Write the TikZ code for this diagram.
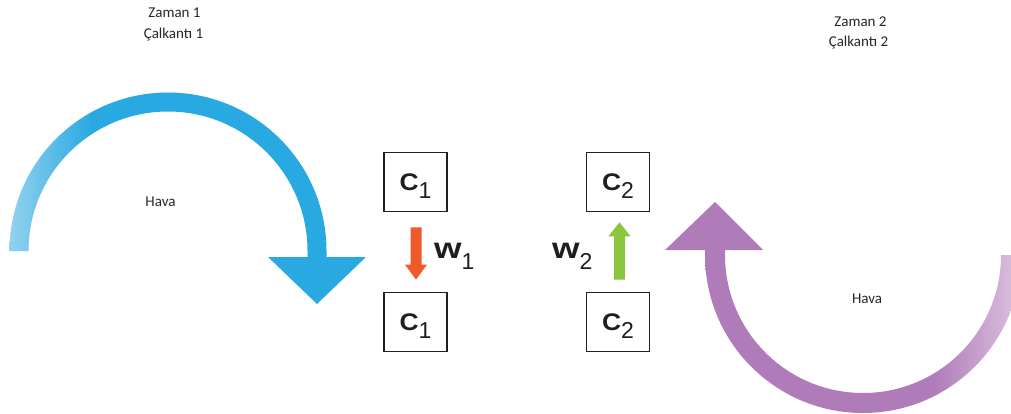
\documentclass[tikz,border=0pt]{standalone}
\usepackage{fontspec}
\usepackage{graphicx}
\setmainfont{Carlito}
\newfontfamily\arialf{Liberation Sans}
\usetikzlibrary{calc}
\definecolor{bluedk}{HTML}{29A9E1}
\definecolor{bluelt}{HTML}{92D2EF}
\definecolor{purpdk}{HTML}{AF7BB9}
\definecolor{purplt}{HTML}{DCC3E0}
\definecolor{redar}{HTML}{EF5A2A}
\definecolor{greenar}{HTML}{8CC63F}
\definecolor{boxline}{HTML}{1E1E1E}
\definecolor{txtcol}{HTML}{262626}
\pgfdeclarehorizontalshading{blueshade}{100bp}{color(0bp)=(bluelt); color(25bp)=(bluelt); color(38bp)=(bluedk); color(100bp)=(bluedk)}
\pgfdeclarehorizontalshading{purpshade}{100bp}{color(0bp)=(purpdk); color(61bp)=(purpdk); color(75bp)=(purplt); color(100bp)=(purplt)}
\newcommand\clbl[1]{{\arialf\bfseries\fontsize{24}{24}\selectfont\scalebox{1.1}[1]{C}}\raisebox{-8pt}[0pt][0pt]{\arialf\fontsize{23}{23}\selectfont #1}}
\newcommand\wlbl[1]{{\arialf\bfseries\fontsize{29}{29}\selectfont\scalebox{1.22}[1]{w}}\raisebox{-11pt}[0pt][0pt]{\arialf\fontsize{23}{23}\selectfont #1}}
\begin{document}
\begin{tikzpicture}[x=1pt,y=-1pt,
  cbox/.style={draw=boxline,line width=1.8pt,minimum width=63pt,minimum height=59pt,inner sep=0pt,text=boxline},
  txt/.style={font=\fontsize{15}{18}\selectfont,inner sep=0pt,text=txtcol,anchor=base},
  wtxt/.style={inner sep=0pt,anchor=base west,text=boxline}]
\useasboundingbox (0,0) rectangle (1011,414);
\clip (0,0) rectangle (1011,414);

% blue curved arrow (left)
\shade[shading=blueshade] (9.5,251) arc[start angle=180,end angle=360,radius=158.5]
  -- (326.5,258) -- (307.5,258) -- (307.5,251)
  arc[start angle=0,end angle=-180,radius=139.5] -- cycle;
\fill[bluedk] (268,257) -- (366,257) -- (317,304) -- cycle;

% purple curved arrow (right)
\shade[shading=purpshade] (705,249) -- (705,255) arc[start angle=180,end angle=0,radius=158]
  -- (1001,255) arc[start angle=0,end angle=180,radius=138] -- (725,249) -- cycle;
\fill[purpdk] (665,250) -- (763,250) -- (715,202) -- cycle;

% texts
\node[txt] (z1) at (174.5,18) {Zaman 1};
\node[txt] (k1) at (173.5,39) {Çalkantı 1};
\node[txt] (h1) at (160.5,207) {Hava};
\node[txt] (z2) at (860.5,27) {Zaman 2};
\node[txt] (k2) at (858.5,47) {Çalkantı 2};
\node[txt] (h2) at (867,303) {Hava};

% boxes
\node[cbox] (c1t) at (415.5,182) {\clbl{1}};
\node[cbox] (c1b) at (415.5,322) {\clbl{1}};
\node[cbox] (c2t) at (618,182) {\clbl{2}};
\node[cbox] (c2b) at (618,322) {\clbl{2}};

% red arrow w1 (down)
\coordinate (r0) at ($(c1t.south)+(0.5,15)$);
\coordinate (r1) at ($(c1b.north)+(0.5,-12)$);
\fill[redar] ($(r0)+(-5.5,0)$) -- ($(r0)+(5.5,0)$) -- ($(r1)+(5.5,-15)$) -- ($(r1)+(11,-15)$)
  -- (r1) -- ($(r1)+(-11,-15)$) -- ($(r1)+(-5.5,-15)$) -- cycle;

% green arrow w2 (up)
\coordinate (g0) at ($(c2b.north)+(1.5,-12)$);
\coordinate (g1) at ($(c2t.south)+(1.5,10)$);
\fill[greenar] ($(g0)+(-5.5,0)$) -- ($(g0)+(5.5,0)$) -- ($(g1)+(5.5,14)$) -- ($(g1)+(11.2,14)$)
  -- (g1) -- ($(g1)+(-11.2,14)$) -- ($(g1)+(-5.5,14)$) -- cycle;

% w labels
\node[wtxt] (w1) at (434,258) {\wlbl{1}};
\node[wtxt] (w2) at (552,258) {\wlbl{2}};
\end{tikzpicture}
\end{document}
